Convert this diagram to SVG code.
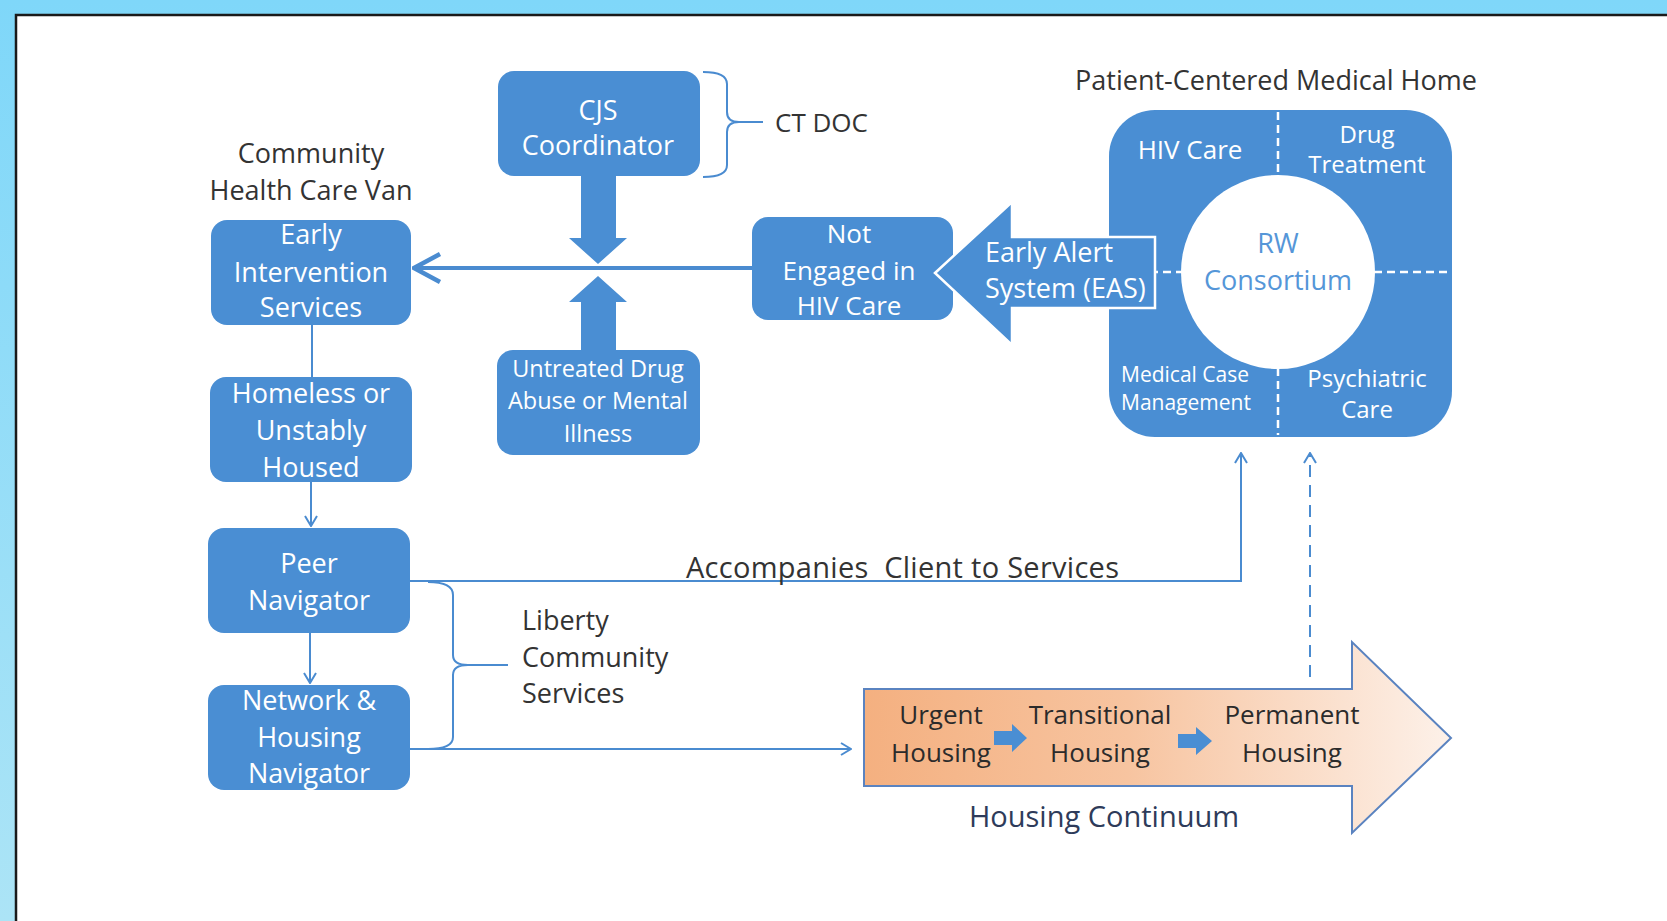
<svg xmlns="http://www.w3.org/2000/svg" width="1667" height="921" viewBox="0 0 1667 921">
  <defs>
    <linearGradient id="bgGrad" x1="0" y1="0" x2="0" y2="1">
      <stop offset="0" stop-color="#7fd7f9"/>
      <stop offset="1" stop-color="#ace4f6"/>
    </linearGradient>
    <linearGradient id="housingGrad" x1="0" y1="0" x2="1" y2="0">
      <stop offset="0" stop-color="#f4b080"/>
      <stop offset="0.45" stop-color="#f7c4a0"/>
      <stop offset="1" stop-color="#fdf1e9"/>
    </linearGradient>
    <marker id="thinHead" viewBox="0 0 12 14" refX="11" refY="7" markerWidth="12" markerHeight="14" markerUnits="userSpaceOnUse" orient="auto">
      <path d="M1,1 L11,7 L1,13" fill="none" stroke="#4a8bd0" stroke-width="2"/>
    </marker>
    <marker id="thickHead" viewBox="0 0 30 32" refX="28" refY="16" markerWidth="30" markerHeight="32" markerUnits="userSpaceOnUse" orient="auto">
      <path d="M2,2 L28,16 L2,30" fill="none" stroke="#4a8bd0" stroke-width="4.5" stroke-linejoin="miter"/>
    </marker>
    <style>
      .box { fill: #4a8ed3; }
      .wt { fill: #ffffff; font-family: "Open Sans", "Noto Sans", sans-serif; text-anchor: middle; }
      .dk { fill: #333333; font-family: "Open Sans", "Noto Sans", sans-serif; }
      .line { fill: none; stroke: #4a8bd0; stroke-width: 2; }
      .dash { fill: none; stroke: #ffffff; stroke-width: 2.5; stroke-dasharray: 8 5; }
      .htx { fill: #2b2b2b; font-family: "Open Sans", "Noto Sans", sans-serif; font-size: 26px; text-anchor: middle; }
    </style>
  </defs>

  <!-- frame -->
  <rect x="0" y="0" width="1667" height="921" fill="url(#bgGrad)"/>
  <rect x="16" y="15" width="1651" height="906" fill="#ffffff"/>
  <path d="M16,921 L16,15 L1667,15" fill="none" stroke="#1a1a1a" stroke-width="2.5"/>

  <!-- connectors -->
  <g id="connectors">
    <line x1="752" y1="268" x2="414" y2="268" stroke="#4a8bd0" stroke-width="4" marker-end="url(#thickHead)"/>
    <line class="line" x1="312" y1="325" x2="312" y2="377"/>
    <line class="line" x1="311" y1="482" x2="311" y2="526" marker-end="url(#thinHead)"/>
    <line class="line" x1="310" y1="633" x2="310" y2="683" marker-end="url(#thinHead)"/>
    <path class="line" d="M410,581 L1241,581 L1241,453" marker-end="url(#thinHead)"/>
    <path class="line" d="M410,749 L851,749" marker-end="url(#thinHead)"/>
    <line class="line" x1="1310" y1="677" x2="1310" y2="453" stroke-dasharray="12 8" marker-end="url(#thinHead)"/>
    <!-- block arrows into the main line -->
    <polygon class="box" points="581,176 616,176 616,238 627,238 598,264 569,238 581,238"/>
    <polygon class="box" points="569,302 598,276 627,302 616,302 616,350 581,350 581,302"/>
    <!-- braces -->
    <path class="line" d="M703,72 Q727,72 727,84 L727,112 Q727,122 739,122 Q727,122 727,132 L727,165 Q727,177 703,177 M739,122 L763,122"/>
    <path class="line" d="M428,582 Q453,582 453,595 L453,655 Q453,665 468,665 Q453,665 453,675 L453,737 Q453,749 428,749 M468,665 L508,665"/>
  </g>

  <!-- labels outside the boxes -->
  <g id="label-van">
    <text class="dk" x="311" y="163" font-size="27" text-anchor="middle">Community</text>
    <text class="dk" x="311" y="200" font-size="27" text-anchor="middle">Health Care Van</text>
  </g>
  <g id="label-ctdoc">
    <text class="dk" x="775" y="132" font-size="26">CT DOC</text>
  </g>
  <g id="label-liberty">
    <text class="dk" x="522" y="630" font-size="27">Liberty</text>
    <text class="dk" x="522" y="667" font-size="27">Community</text>
    <text class="dk" x="522" y="703" font-size="27">Services</text>
  </g>
  <g id="label-accompanies">
    <text class="dk" x="686" y="578" font-size="29" textLength="433" lengthAdjust="spacing" style="white-space:pre" xml:space="preserve">Accompanies  Client to Services</text>
  </g>

  <!-- left column -->
  <g id="node-eis">
    <rect class="box" x="211" y="220" width="200" height="105" rx="16"/>
    <text class="wt" x="311" y="244" font-size="27">Early</text>
    <text class="wt" x="311" y="282" font-size="27">Intervention</text>
    <text class="wt" x="311" y="317" font-size="27">Services</text>
  </g>
  <g id="node-homeless">
    <rect class="box" x="210" y="377" width="202" height="105" rx="16"/>
    <text class="wt" x="311" y="403" font-size="27">Homeless or</text>
    <text class="wt" x="311" y="440" font-size="27">Unstably</text>
    <text class="wt" x="311" y="477" font-size="27">Housed</text>
  </g>
  <g id="node-peer">
    <rect class="box" x="208" y="528" width="202" height="105" rx="16"/>
    <text class="wt" x="309" y="573" font-size="27">Peer</text>
    <text class="wt" x="309" y="610" font-size="27">Navigator</text>
  </g>
  <g id="node-network">
    <rect class="box" x="208" y="685" width="202" height="105" rx="16"/>
    <text class="wt" x="309" y="710" font-size="27">Network &amp;</text>
    <text class="wt" x="309" y="747" font-size="27">Housing</text>
    <text class="wt" x="309" y="783" font-size="27">Navigator</text>
  </g>

  <!-- centre column -->
  <g id="node-cjs">
    <rect class="box" x="498" y="71" width="202" height="105" rx="16"/>
    <text class="wt" x="598" y="120" font-size="27">CJS</text>
    <text class="wt" x="598" y="155" font-size="27">Coordinator</text>
  </g>
  <g id="node-untreated">
    <rect class="box" x="497" y="350" width="203" height="105" rx="16"/>
    <text class="wt" x="598" y="377" font-size="23.5">Untreated Drug</text>
    <text class="wt" x="598" y="409" font-size="23.5">Abuse or Mental</text>
    <text class="wt" x="598" y="442" font-size="23.5">Illness</text>
  </g>
  <g id="node-not-engaged">
    <rect class="box" x="752" y="217" width="201" height="103" rx="16"/>
    <text class="wt" x="849" y="243" font-size="26">Not</text>
    <text class="wt" x="849" y="280" font-size="26">Engaged in</text>
    <text class="wt" x="849" y="315" font-size="26">HIV Care</text>
  </g>

  <!-- medical home -->
  <g id="node-pcmh">
    <text class="dk" x="1276" y="90" font-size="27" text-anchor="middle">Patient-Centered Medical Home</text>
    <rect class="box" x="1109" y="110" width="343" height="327" rx="46"/>
    <line class="dash" x1="1278" y1="112" x2="1278" y2="176"/>
    <line class="dash" x1="1278" y1="368" x2="1278" y2="435"/>
    <line class="dash" x1="1111" y1="272" x2="1182" y2="272"/>
    <line class="dash" x1="1374" y1="272" x2="1452" y2="272"/>
    <circle cx="1278" cy="272" r="97" fill="#ffffff"/>
    <text class="wt" x="1190" y="159" font-size="26">HIV Care</text>
    <text class="wt" x="1367" y="143" font-size="24">Drug</text>
    <text class="wt" x="1367" y="173" font-size="24">Treatment</text>
    <text class="wt" x="1278" y="253" font-size="27" style="fill:#5596d8">RW</text>
    <text class="wt" x="1278" y="290" font-size="27" style="fill:#5596d8">Consortium</text>
    <text class="wt" x="1121" y="382" font-size="21" style="text-anchor:start">Medical Case</text>
    <text class="wt" x="1121" y="410" font-size="21" style="text-anchor:start">Management</text>
    <text class="wt" x="1367" y="387" font-size="24">Psychiatric</text>
    <text class="wt" x="1367" y="418" font-size="24">Care</text>
  </g>

  <!-- early alert system arrow -->
  <g id="node-eas">
    <polygon class="box" points="935,273 1012,202 1012,237 1155,237 1155,308 1012,308 1012,345" stroke="#ffffff" stroke-width="2.5" stroke-linejoin="miter"/>
    <text class="wt" x="985" y="262" font-size="27" style="text-anchor:start">Early Alert</text>
    <text class="wt" x="985" y="298" font-size="27" style="text-anchor:start">System (EAS)</text>
  </g>

  <!-- housing continuum -->
  <g id="node-housing">
    <polygon points="864,689 1352,689 1352,642 1451,738 1352,833 1352,786 864,786" fill="url(#housingGrad)" stroke="#5a83c0" stroke-width="2"/>
    <text class="htx" x="941" y="724">Urgent</text>
    <text class="htx" x="941" y="762">Housing</text>
    <text class="htx" x="1100" y="724">Transitional</text>
    <text class="htx" x="1100" y="762">Housing</text>
    <text class="htx" x="1292" y="724">Permanent</text>
    <text class="htx" x="1292" y="762">Housing</text>
    <polygon class="box" points="994,731 1012,731 1012,724 1027,738 1012,752 1012,745 994,745"/>
    <polygon class="box" points="1178,734 1196,734 1196,727 1212,741 1196,755 1196,748 1178,748"/>
    <text x="1104" y="827" font-size="29" fill="#2e3b5a" font-family="Open Sans, Noto Sans, sans-serif" text-anchor="middle">Housing Continuum</text>
  </g>
</svg>
